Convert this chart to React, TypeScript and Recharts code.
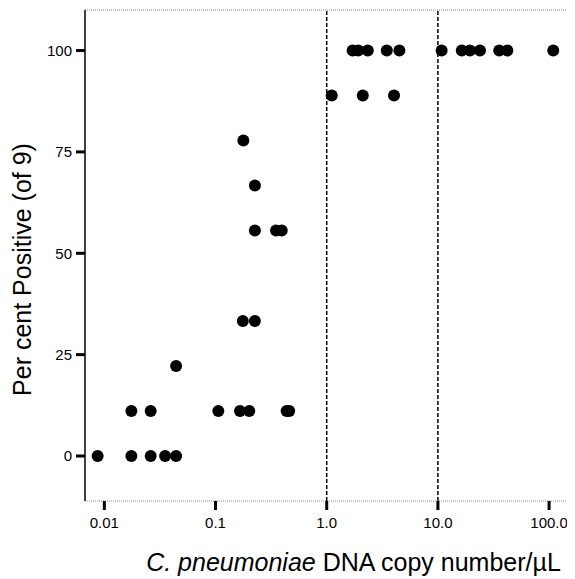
import { ReferenceLine, Scatter, ScatterChart, XAxis, YAxis } from "recharts"

// DNA copy number per µL (x) and per cent positive out of 9 replicates (y)
const copyNumbers = [
  0.0087, 0.0175, 0.0261, 0.0352, 0.0442,
  0.0175, 0.0261, 0.106, 0.166, 0.201, 0.436, 0.46,
  0.0442,
  0.176, 0.226,
  0.226, 0.35, 0.394,
  0.226,
  0.178,
  1.11, 2.11, 4.03,
  1.71, 1.92, 2.34, 3.47, 4.5, 10.8, 16.4, 19.4, 23.9, 35.6, 42.1, 109,
]
const percentPositive = [
  0, 0, 0, 0, 0,
  11.1, 11.1, 11.1, 11.1, 11.1, 11.1, 11.1,
  22.2,
  33.3, 33.3,
  55.6, 55.6, 55.6,
  66.7,
  77.8,
  88.9, 88.9, 88.9,
  100, 100, 100, 100, 100, 100, 100, 100, 100, 100, 100, 100,
]

const xTicks = [0.01, 0.1, 1, 10, 100]
const xTickLabels = ["0.01", "0.1", "1.0", "10.0", "100.0"]
const yTicks = [0, 25, 50, 75, 100]
const cutoffs = [1, 10]

const xDomain: [number, number] = [0.0067, 167.5]
const yDomain: [number, number] = [-11.1, 110]

const data = copyNumbers.map((x, i) => ({ x, y: percentPositive[i] }))

const font = "Arial, 'Liberation Sans', Helvetica, sans-serif"

const Dot = (props: any) => <circle cx={props.cx} cy={props.cy} r={6} fill="#000" />

const YLabel = ({ viewBox }: any) => {
  const cx = 14
  const cy = viewBox.y + viewBox.height / 2 + 14
  return (
    <text x={cx} y={cy} transform={`rotate(-90 ${cx} ${cy})`} textAnchor="middle" dominantBaseline="central"
      fontSize={25} fontFamily={font} fill="#000">
      Per cent Positive (of 9)
    </text>
  )
}

const XLabel = ({ viewBox }: any) => {
  const cx = viewBox.x + viewBox.width / 2 + 24
  return (
    <text x={cx} y={563} textAnchor="middle" fontSize={25} fontFamily={font} fill="#000">
      <tspan fontStyle="italic">C. pneumoniae</tspan> DNA copy number/µL
    </text>
  )
}

export default function App() {
  return (
    <ScatterChart width={567} height={571} margin={{ top: 2, right: 1, bottom: 48, left: 20 }}>
      <XAxis
        type="number"
        dataKey="x"
        scale="log"
        domain={xDomain}
        allowDataOverflow
        ticks={xTicks}
        tickFormatter={(v: number) => xTickLabels[xTicks.indexOf(v)] ?? String(v)}
        tickSize={9}
        tickMargin={7}
        height={30}
        axisLine={{ stroke: "#888", strokeDasharray: "1 1" }}
        tickLine={{ stroke: "#000", strokeWidth: 3 }}
        tick={{ fill: "#000", fontSize: 15, fontFamily: font }}
        label={<XLabel />}
      />
      <YAxis
        type="number"
        dataKey="y"
        domain={yDomain}
        allowDataOverflow
        ticks={yTicks}
        tickSize={9}
        tickMargin={4}
        width={57}
        axisLine={{ stroke: "#000", strokeWidth: 1.5 }}
        tickLine={{ stroke: "#000", strokeWidth: 3 }}
        tick={{ fill: "#000", fontSize: 15, fontFamily: font }}
        label={<YLabel />}
      />
      <ReferenceLine y={yDomain[1]} stroke="#888" strokeDasharray="1 1" />
      <ReferenceLine x={xDomain[1]} stroke="#888" strokeDasharray="1 1" />
      {cutoffs.map((c) => (
        <ReferenceLine key={c} x={c} stroke="#000" strokeWidth={1.5} strokeDasharray="4 2" />
      ))}
      <Scatter data={data} shape={<Dot />} isAnimationActive={false} />
    </ScatterChart>
  )
}
